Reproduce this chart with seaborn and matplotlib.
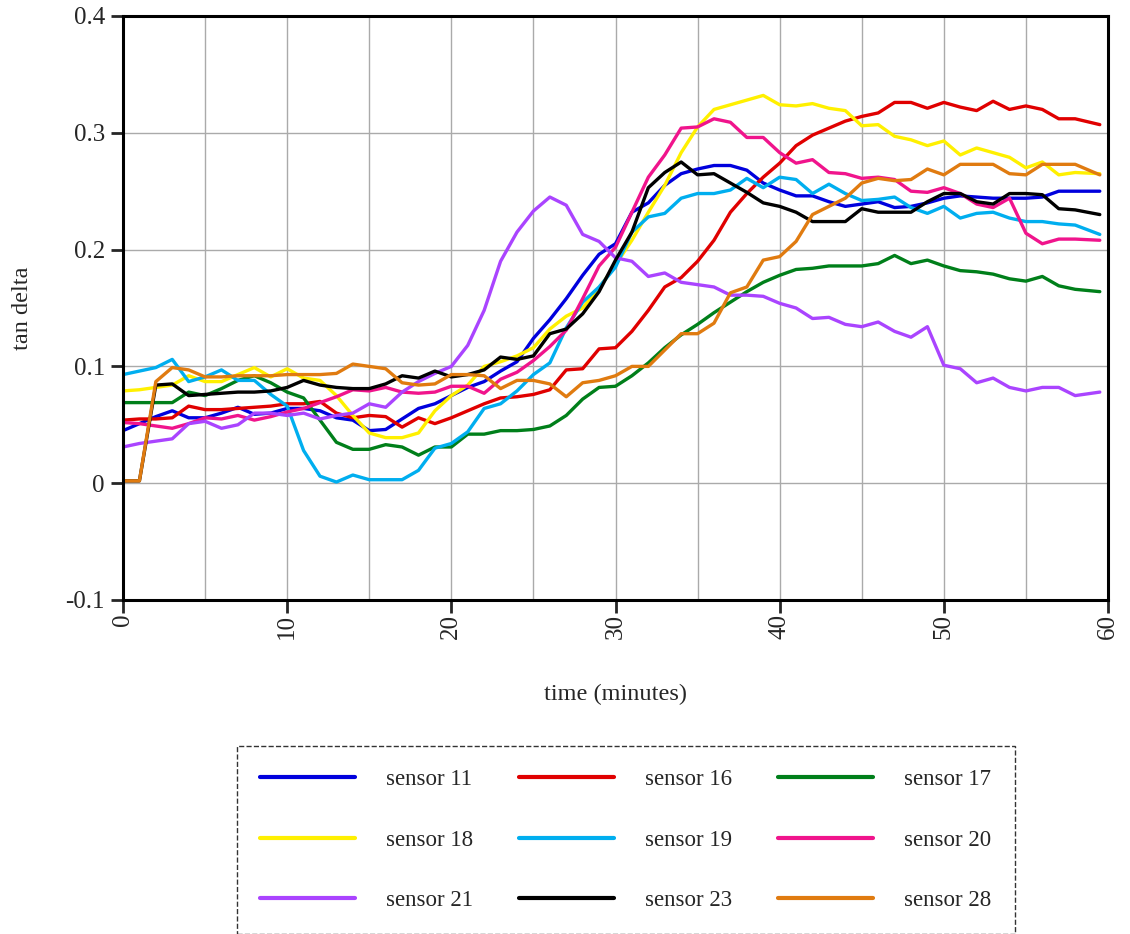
import numpy as np
import matplotlib
matplotlib.use('Agg')
import matplotlib.pyplot as plt
import pandas as pd
import seaborn as sns

# sample times (minutes)
minutes = np.append(np.arange(59), 59.5)

sensor_11 = [.045, .051, .057, .062, .056, .056, .060, .065, .059, .060,
             .064, .064, .062, .056, .054, .045, .046, .055, .064, .068,
             .075, .082, .087, .096, .104, .124, .140, .158, .178, .196,
             .205, .232, .240, .255, .265, .269, .272, .272, .268, .257,
             .251, .246, .246, .241, .237, .239, .241, .236, .237, .240,
             .244, .246, .245, .244, .244, .244, .245, .250, .250, .250]
sensor_16 = [.054, .055, .055, .056, .066, .063, .063, .064, .065, .066,
             .068, .068, .070, .060, .056, .058, .057, .048, .056, .051,
             .056, .062, .068, .073, .074, .076, .080, .097, .098, .115,
             .116, .130, .148, .168, .176, .190, .208, .232, .248, .262,
             .274, .289, .298, .304, .310, .314, .317, .326, .326, .321,
             .326, .322, .319, .327, .320, .323, .320, .312, .312, .307]
sensor_17 = [.069, .069, .069, .069, .078, .075, .081, .088, .092, .086,
             .078, .073, .054, .035, .029, .029, .033, .031, .024, .031,
             .031, .042, .042, .045, .045, .046, .049, .058, .072, .082,
             .083, .092, .103, .116, .127, .136, .146, .155, .164, .172,
             .178, .183, .184, .186, .186, .186, .188, .195, .188, .191,
             .186, .182, .181, .179, .175, .173, .177, .169, .166, .164]
sensor_18 = [.079, .080, .082, .084, .092, .087, .087, .093, .099, .091,
             .098, .090, .088, .075, .058, .043, .039, .039, .043, .062,
             .075, .084, .100, .104, .109, .116, .132, .143, .150, .167,
             .187, .208, .232, .255, .283, .305, .320, .324, .328, .332,
             .324, .323, .325, .321, .319, .306, .307, .297, .294, .289,
             .293, .281, .287, .283, .279, .270, .275, .264, .266, .265]
sensor_19 = [.093, .096, .099, .106, .087, .091, .097, .088, .088, .076,
             .066, .028, .006, .001, .007, .003, .003, .003, .011, .030,
             .034, .044, .064, .068, .079, .093, .103, .133, .155, .168,
             .185, .215, .228, .231, .244, .248, .248, .251, .261, .253,
             .262, .260, .248, .256, .248, .242, .243, .245, .236, .231,
             .237, .227, .231, .232, .227, .224, .224, .222, .221, .213]
sensor_20 = [.052, .051, .049, .047, .051, .056, .055, .058, .054, .057,
             .061, .064, .069, .074, .080, .079, .082, .078, .077, .078,
             .083, .083, .077, .089, .095, .105, .117, .131, .158, .186,
             .202, .232, .262, .281, .304, .305, .312, .309, .296, .296,
             .283, .274, .277, .266, .265, .261, .262, .260, .250, .249,
             .253, .248, .239, .236, .244, .214, .205, .209, .209, .208]
sensor_21 = [.031, .034, .036, .038, .051, .053, .047, .050, .060, .060,
             .058, .060, .055, .058, .060, .068, .065, .078, .087, .094,
             .100, .118, .148, .190, .215, .233, .245, .238, .213, .207,
             .193, .190, .177, .180, .172, .170, .168, .161, .161, .160,
             .154, .150, .141, .142, .136, .134, .138, .130, .125, .134,
             .101, .098, .086, .090, .082, .079, .082, .082, .075, .078]
sensor_23 = [.002, .002, .084, .085, .075, .076, .077, .078, .078, .079,
             .082, .088, .084, .082, .081, .081, .085, .092, .090, .096,
             .091, .093, .097, .108, .106, .109, .128, .132, .145, .164,
             .191, .215, .253, .266, .275, .264, .265, .257, .249, .240,
             .237, .232, .224, .224, .224, .235, .232, .232, .232, .241,
             .248, .248, .241, .239, .248, .248, .247, .235, .234, .230]
sensor_28 = [.002, .002, .087, .099, .097, .091, .091, .092, .092, .092,
             .093, .093, .093, .094, .102, .100, .098, .086, .084, .085,
             .093, .093, .092, .081, .088, .088, .085, .074, .086, .088,
             .092, .100, .100, .114, .128, .128, .137, .163, .168, .191,
             .194, .207, .230, .237, .244, .257, .261, .259, .260, .269,
             .264, .273, .273, .273, .265, .264, .273, .273, .273, .264]

names = ['sensor 11', 'sensor 16', 'sensor 17', 'sensor 18', 'sensor 19',
         'sensor 20', 'sensor 21', 'sensor 23', 'sensor 28']
series = [sensor_11, sensor_16, sensor_17, sensor_18, sensor_19,
          sensor_20, sensor_21, sensor_23, sensor_28]
colors = ['#0000dd', '#e00000', '#007f1a', '#fff000', '#00aeef',
          '#f0148c', '#aa44ff', '#000000', '#e07b10']

frames = []
for name, vals in zip(names, series):
    frames.append(pd.DataFrame({'time': minutes, 'tan delta': vals, 'sensor': name}))
df = pd.concat(frames, ignore_index=True)

sns.set_style('white')
plt.rcParams['font.family'] = ['Liberation Serif', 'DejaVu Serif']
plt.rcParams['font.size'] = 17

fig = plt.figure(figsize=(11.3, 9.34), dpi=100)
ax = fig.add_axes([123 / 1130, 1 - 600 / 934, 985 / 1130, 584 / 934])

sns.lineplot(data=df, x='time', y='tan delta', hue='sensor', hue_order=names,
             palette=colors, linewidth=2.4, ax=ax, legend=False)

ax.set_xlim(0, 60)
ax.set_ylim(-0.1, 0.4)
ax.set_xticks(np.arange(0, 61, 10))
ax.set_xticks(np.arange(0, 61, 5), minor=True)
ax.set_xticklabels([str(v) for v in range(0, 61, 10)], rotation=90)
ax.set_yticks([-0.1, 0, 0.1, 0.2, 0.3, 0.4])
ax.set_yticklabels(['-0.1', '0', '0.1', '0.2', '0.3', '0.4'])
ax.grid(True, which='both', color='#aaaaaa', linewidth=1)
ax.tick_params(axis='both', which='major', direction='out', length=9, width=2,
               left=True, bottom=True, labelsize=18, pad=4)
ax.tick_params(axis='x', which='major', pad=1)
ax.tick_params(axis='x', which='minor', length=0)
for s in ax.spines.values():
    s.set_linewidth(2.2)
    s.set_color('black')

ax.set_xlabel('time (minutes)', fontsize=17.5)
ax.set_ylabel('tan delta', fontsize=17.5)
ax.xaxis.set_label_coords(0.5, -0.144)
ax.yaxis.set_label_coords(-0.091, 0.5)

# legend is filled row by row in the reference
order = [0, 3, 6, 1, 4, 7, 2, 5, 8]
handles = [plt.Line2D([], [], color=colors[i], linewidth=3) for i in order]
labels = [names[i] for i in order]
leg = fig.legend(handles, labels, loc='upper center', ncol=3,
                 bbox_to_anchor=(626 / 1130, 1 - 746 / 934), borderaxespad=0,
                 handlelength=4.15, handletextpad=1.35, columnspacing=2.0,
                 labelspacing=1.73, borderpad=1.0, fancybox=False,
                 edgecolor='black', fontsize=16.5)
frame = leg.get_frame()
frame.set_linestyle('--')
frame.set_linewidth(1)

fig.savefig('out.png', dpi=100)
